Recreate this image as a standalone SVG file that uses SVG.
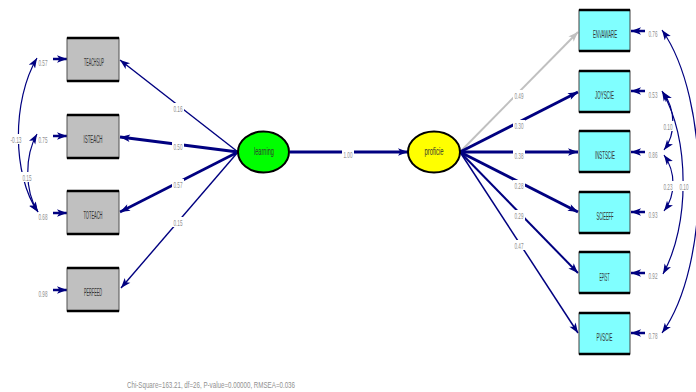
<svg xmlns="http://www.w3.org/2000/svg" width="696" height="392" viewBox="0 0 696 392">
<defs>
<marker id="ah" viewBox="0 0 10 8" refX="10" refY="4" markerWidth="11" markerHeight="8" markerUnits="userSpaceOnUse" orient="auto-start-reverse">
<path d="M0,0.3 L10,4 L0,7.7 L2.5,4 z" fill="#000080"/>
</marker>
<marker id="ahg" viewBox="0 0 10 8" refX="10" refY="4" markerWidth="11" markerHeight="8" markerUnits="userSpaceOnUse" orient="auto">
<path d="M0,0.3 L10,4 L0,7.7 L2.5,4 z" fill="#c0c0c0"/>
</marker>
</defs>
<style>
.obsL rect{fill:#c0c0c0;stroke:#505050;stroke-width:1}
.obsR rect{fill:#80ffff;stroke:#404040;stroke-width:1}
.bar{stroke:#000;stroke-width:2.5}
.lbl{font-family:"Liberation Sans",Arial,sans-serif;font-size:10px;fill:#333;text-anchor:middle}
.num{font-family:"Liberation Sans",Arial,sans-serif;font-size:8.5px;fill:#909090;text-anchor:middle}
.c{fill:none;stroke:#000080;marker-end:url(#ah)}
.cv{fill:none;stroke:#000080;stroke-width:1.2;marker-start:url(#ah);marker-end:url(#ah)}
.bg{fill:#fff}
</style>
<rect width="696" height="392" fill="#fff"/>

<g id="connectors">
<line class="c" x1="238" y1="152" x2="120" y2="60" stroke-width="1.4"/>
<line class="c" x1="238" y1="152" x2="120" y2="137" stroke-width="3"/>
<line class="c" x1="238" y1="152" x2="120" y2="212" stroke-width="2.6"/>
<line class="c" x1="238" y1="152" x2="121" y2="288" stroke-width="1.4"/>
<line class="c" x1="290" y1="152" x2="408" y2="152" stroke-width="2.8"/>
<line x1="460" y1="152" x2="578" y2="32" stroke="#c0c0c0" stroke-width="2" marker-end="url(#ahg)"/>
<line class="c" x1="460" y1="152" x2="578" y2="92" stroke-width="3"/>
<line class="c" x1="460" y1="152" x2="578" y2="152" stroke-width="3"/>
<line class="c" x1="460" y1="152" x2="578" y2="212" stroke-width="3"/>
<line class="c" x1="460" y1="152" x2="578" y2="273" stroke-width="2"/>
<line class="c" x1="460" y1="152" x2="578" y2="333" stroke-width="1.5"/>
<line class="c" x1="53" y1="59" x2="67" y2="59" stroke-width="2.5"/>
<line class="c" x1="53" y1="136" x2="67" y2="136" stroke-width="2.5"/>
<line class="c" x1="53" y1="213" x2="67" y2="213" stroke-width="2.5"/>
<line class="c" x1="53" y1="290" x2="67" y2="290" stroke-width="2.5"/>
<line class="c" x1="645" y1="31" x2="631" y2="31" stroke-width="2.5"/>
<line class="c" x1="645" y1="91" x2="631" y2="91" stroke-width="2.5"/>
<line class="c" x1="645" y1="152" x2="631" y2="152" stroke-width="2.5"/>
<line class="c" x1="645" y1="212" x2="631" y2="212" stroke-width="2.5"/>
<line class="c" x1="645" y1="273" x2="631" y2="273" stroke-width="2.5"/>
<line class="c" x1="645" y1="333" x2="631" y2="333" stroke-width="2.5"/>
<path class="cv" d="M37,58 C12,100 12,175 38,212"/>
<path class="cv" d="M37,134 C25,155 24,190 38,212"/>
<path class="cv" d="M663,92 C676,110 676,134 664,150"/>
<path class="cv" d="M664,155 C676,172 676,195 664,211"/>
<path class="cv" d="M662,91 C690,140 690,225 663,274"/>
<path class="cv" d="M662,30 C711,100 711,265 662,333"/>
</g>

<g id="learning">
<ellipse cx="263.5" cy="152" rx="25.5" ry="20.5" fill="#00ff00" stroke="#000" stroke-width="2"/>
<text class="lbl" x="264" y="155" font-size="8" textLength="20" lengthAdjust="spacingAndGlyphs" fill="#555">learning</text>
</g>
<g id="proficie">
<ellipse cx="434" cy="152" rx="26" ry="20.5" fill="#ffff00" stroke="#000" stroke-width="2"/>
<text class="lbl" x="434" y="155" font-size="8" textLength="19" lengthAdjust="spacingAndGlyphs" fill="#555">proficie</text>
</g>

<g id="TEACHSUP" class="obsL">
<rect x="67" y="38" width="52" height="43"/>
<line class="bar" x1="67" y1="38" x2="119" y2="38"/><line class="bar" x1="67" y1="81" x2="119" y2="81"/>
<text class="lbl" x="94" y="66" textLength="20" lengthAdjust="spacingAndGlyphs">TEACHSUP</text>
</g>
<g id="ISTEACH" class="obsL">
<rect x="67" y="115" width="52" height="43"/>
<line class="bar" x1="67" y1="115" x2="119" y2="115"/><line class="bar" x1="67" y1="158" x2="119" y2="158"/>
<text class="lbl" x="93" y="143" textLength="19" lengthAdjust="spacingAndGlyphs">ISTEACH</text>
</g>
<g id="TOTEACH" class="obsL">
<rect x="67" y="191" width="52" height="43"/>
<line class="bar" x1="67" y1="191" x2="119" y2="191"/><line class="bar" x1="67" y1="234" x2="119" y2="234"/>
<text class="lbl" x="93" y="219" textLength="19" lengthAdjust="spacingAndGlyphs">TOTEACH</text>
</g>
<g id="PERFEED" class="obsL">
<rect x="67" y="268" width="52" height="43"/>
<line class="bar" x1="67" y1="268" x2="119" y2="268"/><line class="bar" x1="67" y1="311" x2="119" y2="311"/>
<text class="lbl" x="93" y="296" textLength="18" lengthAdjust="spacingAndGlyphs">PERFEED</text>
</g>

<g id="ENVAWARE" class="obsR">
<rect x="579" y="10" width="51" height="41"/>
<line class="bar" x1="579" y1="10" x2="630" y2="10"/><line class="bar" x1="579" y1="51" x2="630" y2="51"/>
<text class="lbl" x="605" y="38" textLength="24" lengthAdjust="spacingAndGlyphs">ENVAWARE</text>
</g>
<g id="JOYSCIE" class="obsR">
<rect x="579" y="71" width="51" height="41"/>
<line class="bar" x1="579" y1="71" x2="630" y2="71"/><line class="bar" x1="579" y1="112" x2="630" y2="112"/>
<text class="lbl" x="604.5" y="99" textLength="19" lengthAdjust="spacingAndGlyphs">JOYSCIE</text>
</g>
<g id="INSTSCIE" class="obsR">
<rect x="579" y="131" width="51" height="41"/>
<line class="bar" x1="579" y1="131" x2="630" y2="131"/><line class="bar" x1="579" y1="172" x2="630" y2="172"/>
<text class="lbl" x="605" y="159" textLength="20" lengthAdjust="spacingAndGlyphs">INSTSCIE</text>
</g>
<g id="SCIEEFF" class="obsR">
<rect x="579" y="192" width="51" height="41"/>
<line class="bar" x1="579" y1="192" x2="630" y2="192"/><line class="bar" x1="579" y1="233" x2="630" y2="233"/>
<text class="lbl" x="605" y="220" textLength="17" lengthAdjust="spacingAndGlyphs">SCIEEFF</text>
</g>
<g id="EPIST" class="obsR">
<rect x="579" y="252" width="51" height="41"/>
<line class="bar" x1="579" y1="252" x2="630" y2="252"/><line class="bar" x1="579" y1="293" x2="630" y2="293"/>
<text class="lbl" x="604.5" y="281" textLength="10" lengthAdjust="spacingAndGlyphs">EPIST</text>
</g>
<g id="PVSCIE" class="obsR">
<rect x="579" y="313" width="51" height="41"/>
<line class="bar" x1="579" y1="313" x2="630" y2="313"/><line class="bar" x1="579" y1="354" x2="630" y2="354"/>
<text class="lbl" x="604.5" y="341" textLength="16" lengthAdjust="spacingAndGlyphs">PVSCIE</text>
</g>

<g id="labels">
<rect class="bg" x="172" y="103" width="12" height="10"/><text class="num" x="178" y="112" textLength="9" lengthAdjust="spacingAndGlyphs">0.16</text>
<rect class="bg" x="172" y="141" width="12" height="10"/><text class="num" x="178" y="150" textLength="9" lengthAdjust="spacingAndGlyphs">0.50</text>
<rect class="bg" x="172" y="179" width="12" height="10"/><text class="num" x="178" y="188" textLength="9" lengthAdjust="spacingAndGlyphs">0.57</text>
<rect class="bg" x="172" y="217" width="12" height="10"/><text class="num" x="178" y="226" textLength="9" lengthAdjust="spacingAndGlyphs">0.15</text>
<rect class="bg" x="342" y="149" width="12" height="10"/><text class="num" x="348" y="158" textLength="9" lengthAdjust="spacingAndGlyphs">1.00</text>
<rect class="bg" x="513" y="90" width="12" height="10"/><text class="num" x="519" y="99" textLength="9" lengthAdjust="spacingAndGlyphs">0.49</text>
<rect class="bg" x="513" y="120" width="12" height="10"/><text class="num" x="519" y="129" textLength="9" lengthAdjust="spacingAndGlyphs">0.30</text>
<rect class="bg" x="513" y="150" width="12" height="10"/><text class="num" x="519" y="159" textLength="9" lengthAdjust="spacingAndGlyphs">0.38</text>
<rect class="bg" x="513" y="180" width="12" height="10"/><text class="num" x="519" y="189" textLength="9" lengthAdjust="spacingAndGlyphs">0.28</text>
<rect class="bg" x="513" y="210" width="12" height="10"/><text class="num" x="519" y="219" textLength="9" lengthAdjust="spacingAndGlyphs">0.29</text>
<rect class="bg" x="513" y="240" width="12" height="10"/><text class="num" x="519" y="249" textLength="9" lengthAdjust="spacingAndGlyphs">0.47</text>
<text class="num" x="43" y="66" textLength="9" lengthAdjust="spacingAndGlyphs">0.57</text>
<text class="num" x="43" y="143" textLength="9" lengthAdjust="spacingAndGlyphs">0.75</text>
<text class="num" x="43" y="220" textLength="9" lengthAdjust="spacingAndGlyphs">0.68</text>
<text class="num" x="43" y="297" textLength="9" lengthAdjust="spacingAndGlyphs">0.98</text>
<rect class="bg" x="9" y="134" width="14" height="10"/><text class="num" x="16" y="143" textLength="11" lengthAdjust="spacingAndGlyphs">-0.13</text>
<rect class="bg" x="21" y="172" width="12" height="10"/><text class="num" x="27" y="181" textLength="9" lengthAdjust="spacingAndGlyphs">0.15</text>
<text class="num" x="653" y="37" textLength="9" lengthAdjust="spacingAndGlyphs">0.76</text>
<text class="num" x="653" y="98" textLength="9" lengthAdjust="spacingAndGlyphs">0.53</text>
<text class="num" x="653" y="158" textLength="9" lengthAdjust="spacingAndGlyphs">0.86</text>
<text class="num" x="653" y="218" textLength="9" lengthAdjust="spacingAndGlyphs">0.93</text>
<text class="num" x="653" y="279" textLength="9" lengthAdjust="spacingAndGlyphs">0.92</text>
<text class="num" x="653" y="339" textLength="9" lengthAdjust="spacingAndGlyphs">0.78</text>
<rect class="bg" x="662" y="121" width="12" height="10"/><text class="num" x="668" y="130" textLength="9" lengthAdjust="spacingAndGlyphs">0.10</text>
<rect class="bg" x="662" y="181" width="12" height="10"/><text class="num" x="668" y="190" textLength="9" lengthAdjust="spacingAndGlyphs">0.23</text>
<rect class="bg" x="678" y="181" width="12" height="10"/><text class="num" x="684" y="190" textLength="9" lengthAdjust="spacingAndGlyphs">0.10</text>
<text class="num" x="211" y="388" textLength="168" lengthAdjust="spacingAndGlyphs" font-size="10">Chi-Square=163.21, df=26, P-value=0.00000, RMSEA=0.036</text>
</g>
</svg>
